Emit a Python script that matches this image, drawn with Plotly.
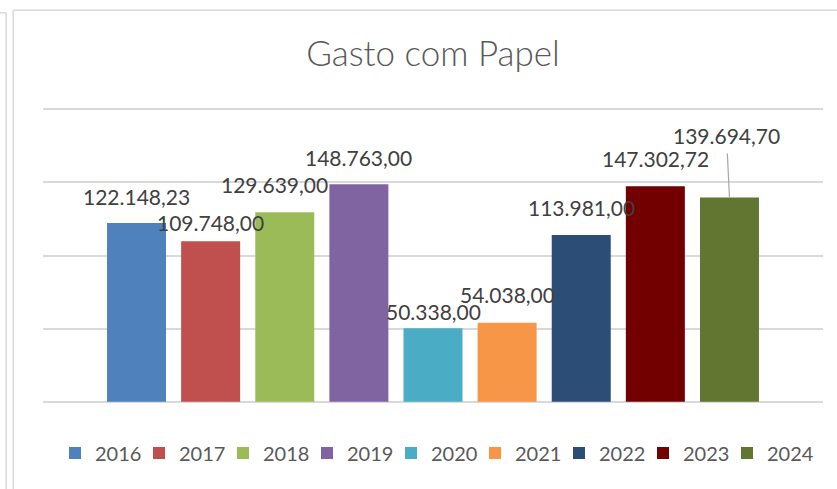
import plotly.graph_objects as go

# ---- data ----
years = ["2016", "2017", "2018", "2019", "2020", "2021", "2022", "2023", "2024"]
values = [122148.23, 109748.00, 129639.00, 148763.00, 50338.00, 54038.00, 113981.00, 147302.72, 139694.70]
colors = ["#4F81BD", "#C0504D", "#9BBB59", "#8064A2", "#4BACC6", "#F79646", "#2C4D75", "#720000", "#627531"]
title_text = "Gasto com Papel"

# label placement tweaks (pixels) reproducing the manually moved Excel labels
label_dx = [0, 0, -10, 0, 0, 0, 0, 0, -3]
label_dy = [27, 19, 28, 27, 17, 28, 28, 28, 62]


def fmt_br(v):
    s = f"{v:,.2f}"
    return s.replace(",", "#").replace(".", ",").replace("#", ".")


W, H = 837, 489
YMAX, YPAD = 200000, 1500
k = 292.4 / YMAX                      # px per unit
padpx = YPAD * k
ML, MR, MT, MB = 43.3, 14.3, 109.3 - padpx, 87.3 - padpx
pw, ph = W - ML - MR, H - MT - MB
PITCH = 84.0
LEG_LEFT = 55

leg_names = ["legend"] + [f"legend{i}" for i in range(2, len(years) + 1)]

fig = go.Figure()
for i, (yr, v, c) in enumerate(zip(years, values, colors)):
    fig.add_trace(go.Bar(x=[yr], y=[v], name=yr, marker_color=c, marker_line_width=0,
                         width=0.796, hoverinfo="skip", legend=leg_names[i]))

lab_font = dict(family="Lato", size=21, color="#404040")
annotations = []
for i, (yr, v, dx, dy) in enumerate(zip(years, values, label_dx, label_dy)):
    if i == len(years) - 1:
        annotations.append(dict(x=i, y=v, xref="x", yref="y", text=fmt_br(v), showarrow=True,
                                ax=dx, ay=-dy, arrowhead=0, arrowwidth=1.2, arrowcolor="#A6A6A6",
                                startstandoff=4, standoff=0, font=lab_font))
    else:
        annotations.append(dict(x=i, y=v, xref="x", yref="y", text=fmt_br(v), showarrow=False,
                                xshift=dx, yshift=dy, yanchor="middle", font=lab_font))


def px_x(px):
    return (px - ML) / pw


def px_y(py):
    return (H - MB - py) / ph


border = dict(color="#D9D9D9", width=1.5)
shapes = [
    dict(type="line", xref="paper", yref="paper", x0=px_x(6.5), x1=px_x(6.5), y0=px_y(13), y1=px_y(489), line=border),
    dict(type="line", xref="paper", yref="paper", x0=px_x(0), x1=px_x(6.5), y0=px_y(13), y1=px_y(13), line=border),
    dict(type="line", xref="paper", yref="paper", x0=px_x(13.5), x1=px_x(13.5), y0=px_y(10.5), y1=px_y(489), line=border),
    dict(type="line", xref="paper", yref="paper", x0=px_x(13.5), x1=px_x(837), y0=px_y(10.5), y1=px_y(10.5), line=border),
]

leg_font = dict(family="Lato", size=20, color="#595959")
legends = {}
for i, ln in enumerate(leg_names):
    legends[ln] = dict(orientation="h", xref="container", x=(LEG_LEFT + i * PITCH) / W, xanchor="left",
                       yref="container", y=1 - 453 / H, yanchor="middle",
                       font=leg_font, itemwidth=30, bgcolor="rgba(0,0,0,0)")

fig.update_layout(
    width=W, height=H,
    margin=dict(l=ML, r=MR, t=MT, b=MB, pad=0, autoexpand=False),
    paper_bgcolor="white", plot_bgcolor="white",
    barmode="overlay",
    title=dict(text=title_text, x=0.5, xref="paper", xanchor="center",
               y=1 - 54 / H, yref="container", yanchor="middle",
               font=dict(family="Lato", size=35, color="#595959", weight=300)),
    xaxis=dict(type="category", range=[-1.262, 9.262], showticklabels=False, showgrid=False,
               zeroline=False, showline=False, ticks=""),
    yaxis=dict(range=[-YPAD, YMAX + YPAD], tickvals=[0, 50000, 100000, 150000, 200000],
               showticklabels=False, showgrid=True,
               gridcolor="#D9D9D9", gridwidth=1.5, zeroline=False, showline=False, ticks=""),
    annotations=annotations,
    shapes=shapes,
    showlegend=True,
    **legends,
)

fig.write_html("out.html",
               config={"displayModeBar": False},
               post_script="document.documentElement.style.margin='0';"
                           "document.body.style.margin='0';document.body.style.overflow='hidden';")
